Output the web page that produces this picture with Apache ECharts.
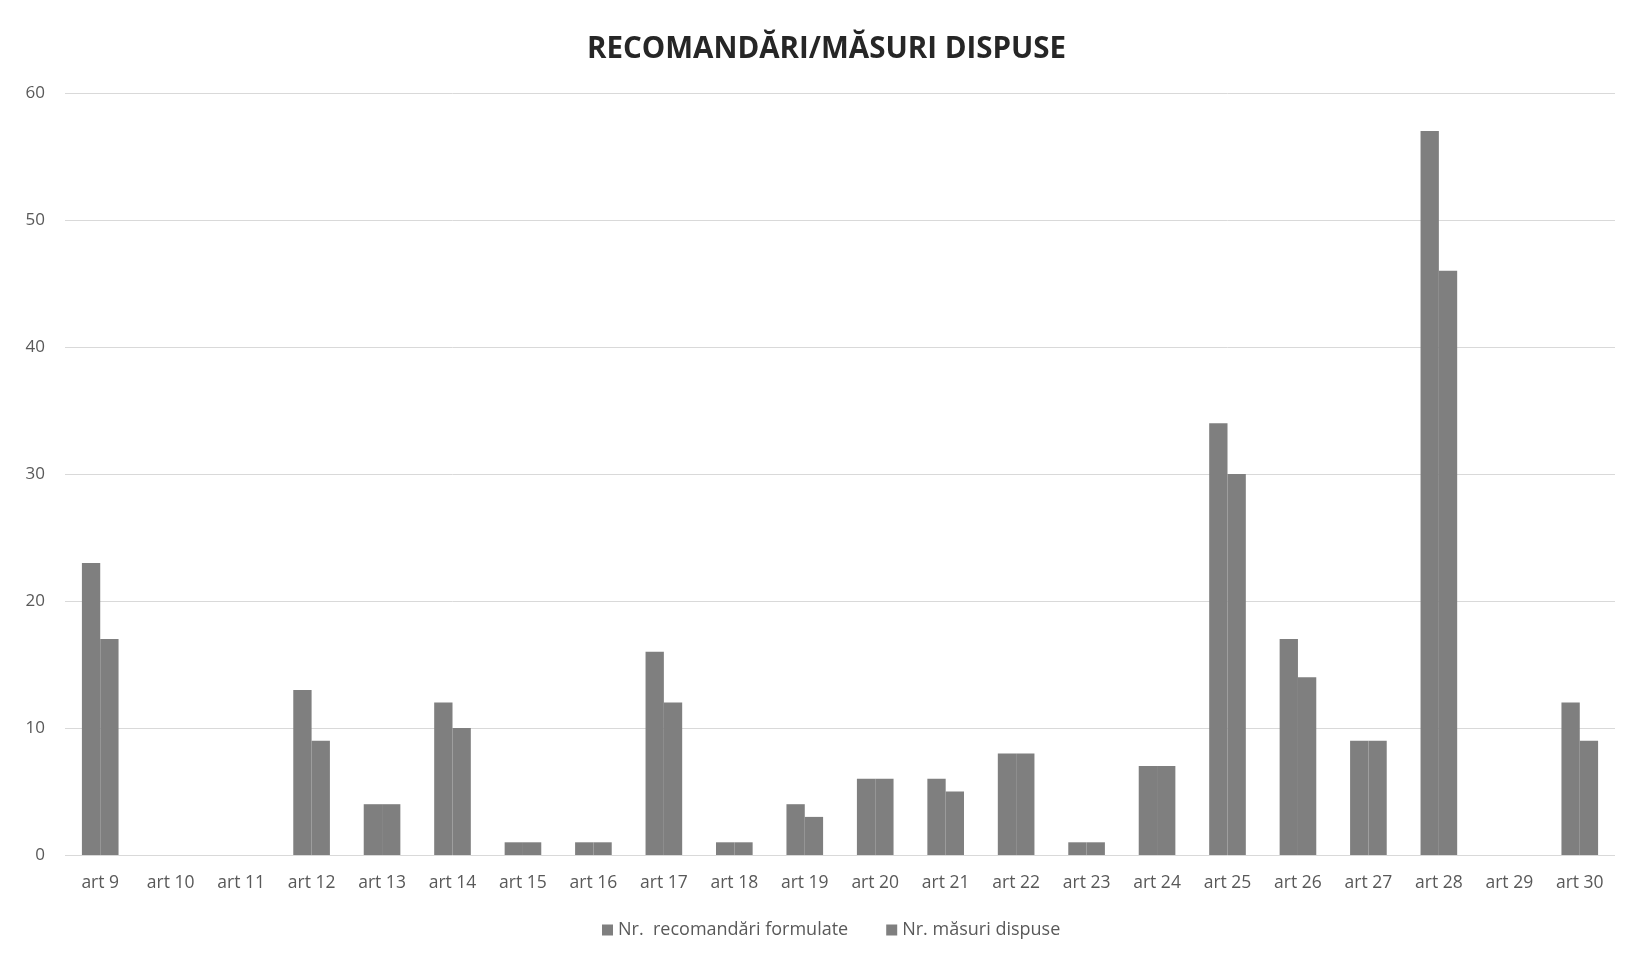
<!DOCTYPE html>
<html>
<head>
<meta charset="utf-8">
<script src="https://cdn.jsdelivr.net/npm/echarts@6/dist/echarts.min.js"></script>
<style>html,body{margin:0;padding:0;background:#fff}#c{width:1625px;height:959px}</style>
</head>
<body>
<div id="c"></div>
<script>
const categories = ['art 9','art 10','art 11','art 12','art 13','art 14','art 15','art 16','art 17','art 18','art 19','art 20','art 21','art 22','art 23','art 24','art 25','art 26','art 27','art 28','art 29','art 30'];
const recomandari = [23,0,0,13,4,12,1,1,16,1,4,6,6,8,1,7,34,17,9,57,0,12];
const masuri = [17,0,0,9,4,10,1,1,12,1,3,6,5,8,1,7,30,14,9,46,0,9];
const seriesNames = ['Nr.  recomandări formulate','Nr. măsuri dispuse'];
const yTicks = {min:0, max:60, interval:10};

const chart = echarts.init(document.getElementById('c'));
chart.setOption({
  backgroundColor:'#ffffff',
  title:{text:'RECOMANDĂRI/MĂSURI DISPUSE', left:582, top:30,
    textStyle:{fontFamily:'Open Sans', fontWeight:'bold', fontSize:29.5, color:'#262626'}},
  legend:{bottom:15, left:597, itemWidth:11, itemHeight:11, itemGap:38,
    icon:'rect', textStyle:{fontFamily:'Open Sans', fontSize:18, color:'#595959'},
    data:seriesNames},
  grid:{left:65, right:10, top:93, bottom:104},
  xAxis:{type:'category', data:categories,
    axisLine:{show:false}, axisTick:{show:false},
    axisLabel:{fontFamily:'Open Sans', fontSize:17.5, color:'#595959', margin:19}},
  yAxis:{type:'value', min:yTicks.min, max:yTicks.max, interval:yTicks.interval,
    axisLine:{show:false}, axisTick:{show:false},
    axisLabel:{fontFamily:'Open Sans', fontSize:17, color:'#595959', margin:20},
    splitLine:{lineStyle:{color:'#d9d9d9', width:1}}},
  series:[
    {name:seriesNames[0], type:'bar', data:recomandari, barGap:'0%', barCategoryGap:'48%',
      itemStyle:{color:'#7f7f7f', borderWidth:0}},
    {name:seriesNames[1], type:'bar', data:masuri,
      itemStyle:{color:'#7f7f7f', borderWidth:0}}
  ]
});
</script>
</body>
</html>
